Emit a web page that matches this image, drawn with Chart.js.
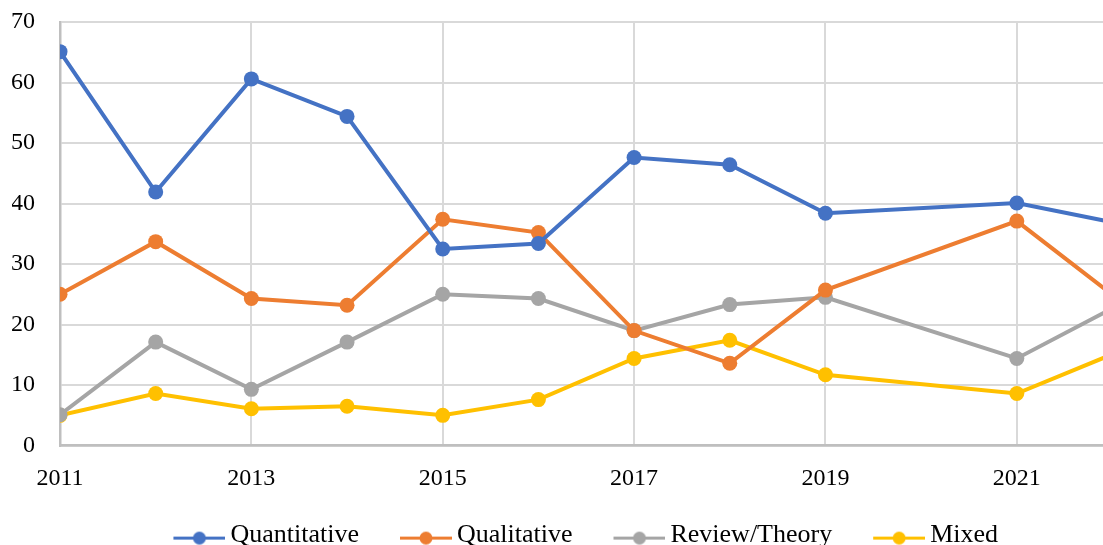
<!DOCTYPE html>
<html>
<head>
<meta charset="utf-8">
<script src="https://cdn.jsdelivr.net/npm/chart.js@4/dist/chart.umd.min.js"></script>
<style>
  html, body { margin: 0; padding: 0; background: #fff; overflow: hidden; }
  #wrap { width: 1120px; height: 545px; }
</style>
</head>
<body>
<div id="wrap"><canvas id="chart" width="1120" height="545"></canvas></div>
<script>
// years in the source (2020 has no value)
const years = [2011, 2012, 2013, 2014, 2015, 2016, 2017, 2018, 2019, 2021, 2022];
const quantitative = [65.1, 41.9, 60.6, 54.4, 32.5, 33.4, 47.6, 46.4, 38.4, 40.1, 36.9];
const qualitative  = [25.0, 33.7, 24.3, 23.2, 37.4, 35.2, 19.0, 13.6, 25.7, 37.1, 24.9];
const reviewTheory = [5.1, 17.1, 9.3, 17.1, 25.0, 24.3, 19.0, 23.3, 24.5, 14.4, 22.7];
const mixed        = [5.0, 8.6, 6.1, 6.5, 5.0, 7.6, 14.4, 17.4, 11.7, 8.6, 15.1];
const xTicks = [2011, 2013, 2015, 2017, 2019, 2021];

const series = [
    { label: 'Quantitative', values: quantitative, color: '#4472C4' },
    { label: 'Qualitative', values: qualitative, color: '#ED7D31' },
    { label: 'Review/Theory', values: reviewTheory, color: '#A5A5A5' },
    { label: 'Mixed', values: mixed, color: '#FFC000' }
];

// legend marker: line with a dot, drawn at the right end of a wider transparent image
// so that items get more room without a big legend padding
function legendMarker(color) {
    const c = document.createElement('canvas');
    c.width = 77;
    c.height = 22;
    const g = c.getContext('2d');
    const cy = 13.5;
    g.strokeStyle = color;
    g.lineWidth = 3;
    g.beginPath();
    g.moveTo(25, cy);
    g.lineTo(77, cy);
    g.stroke();
    g.fillStyle = color;
    g.beginPath();
    g.arc(51, cy, 6.5, 0, Math.PI * 2);
    g.fill();
    return c;
}

// nudge the legend a little to the left, like the original
const legendShift = {
    id: 'legendShift',
    afterLayout(chart) {
        chart.legend.left -= 9;
        chart.legend.right -= 9;
    }
};

const serif = "'Liberation Serif', 'Times New Roman', serif";

new Chart(document.getElementById('chart'), {
    type: 'line',
    data: {
        datasets: series.map(s => ({
            label: s.label,
            data: years.map((yr, i) => ({ x: yr, y: s.values[i] })),
            borderColor: s.color,
            backgroundColor: s.color,
            borderWidth: 4,
            pointRadius: 7.5,
            pointHoverRadius: 7.5,
            pointBorderWidth: 0,
            tension: 0,
            fill: false
        }))
    },
    options: {
        responsive: false,
        animation: false,
        layout: { padding: { left: 12, right: 3, top: 22, bottom: -13.6 } },
        scales: {
            x: {
                type: 'linear',
                min: 2011,
                max: 2022,
                afterBuildTicks: axis => { axis.ticks = xTicks.map(v => ({ value: v })); },
                afterFit: axis => {
                    axis.height = 53;
                    axis.paddingLeft = 0;
                    axis.paddingRight = 0;
                },
                grid: { color: '#d9d9d9', lineWidth: 2, drawTicks: false },
                border: { color: '#bfbfbf', width: 2.5 },
                ticks: {
                    color: '#000',
                    padding: 19,
                    maxRotation: 0,
                    font: { family: serif, size: 24 },
                    callback: v => String(v)
                }
            },
            y: {
                min: 0,
                max: 70,
                afterFit: axis => {
                    axis.width = 48;
                    axis.paddingTop = 0;
                    axis.paddingBottom = 0;
                },
                ticks: {
                    stepSize: 10,
                    color: '#000',
                    padding: 25,
                    font: { family: serif, size: 24 }
                },
                grid: { color: '#d9d9d9', lineWidth: 2, drawTicks: false },
                border: { color: '#bfbfbf', width: 2.5 }
            }
        },
        plugins: {
            tooltip: { enabled: false },
            legend: {
                position: 'bottom',
                fullSize: false,
                labels: {
                    usePointStyle: true,
                    pointStyleWidth: 61,
                    boxWidth: 61,
                    padding: 24,
                    color: '#000',
                    font: { family: serif, size: 26 },
                    generateLabels: chart => {
                        const items = Chart.defaults.plugins.legend.labels.generateLabels(chart);
                        items.forEach((it, i) => { it.pointStyle = legendMarker(series[i].color); });
                        return items;
                    }
                }
            }
        }
    },
    plugins: [legendShift]
});
</script>
</body>
</html>
